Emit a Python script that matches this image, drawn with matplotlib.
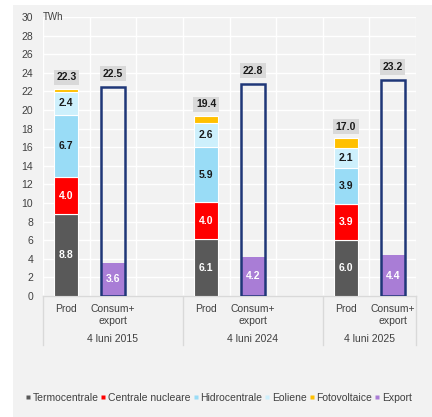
import matplotlib.pyplot as plt
import matplotlib.lines as mlines
import numpy as np

plt.rcParams['font.family'] = ['Liberation Sans', 'DejaVu Sans']

# Production mix and consumption, first 4 months (TWh)
periods = ['4 luni 2015', '4 luni 2024', '4 luni 2025']
termo = [8.8, 6.1, 6.0]
nuclear = [4.0, 4.0, 3.9]
hidro = [6.7, 5.9, 3.9]
eolian = [2.4, 2.6, 2.1]
foto = [0.4, 0.8, 1.1]
prod_total = [22.3, 19.4, 17.0]
export = [3.6, 4.2, 4.4]
consum_total = [22.5, 22.8, 23.2]
bar_labels = ['Prod', 'Consum+\nexport']
yticks = list(range(0, 31, 2))

series_names = ['Termocentrale', 'Centrale nucleare', 'Hidrocentrale',
                'Eoliene', 'Fotovoltaice', 'Export']
colors = ['#595959', '#ff0000', '#99dcf6', '#cdf0fc', '#ffc000', '#a97dd6']
label_colors = ['white', 'white', '#1a1a1a', '#1a1a1a', None, 'white']
navy = '#1f3778'
panel = '#f2f2f2'

fig = plt.figure(figsize=(4.32, 4.17), dpi=100, facecolor='white')
# grey panel behind the chart
fig.patches.append(plt.Rectangle((13 / 432, 0), 1, 1 - 5 / 417,
                                 transform=fig.transFigure,
                                 facecolor=panel, edgecolor='none', zorder=-1))
ax = fig.add_axes([43 / 432, 1 - 296 / 417, 373 / 432, 279 / 417])
ax.set_zorder(1)
ax.set_facecolor(panel)

width = 0.52
prod_x = np.array([0, 3, 6])
cons_x = prod_x + 1

# Stacked production bars
stacks = [termo, nuclear, hidro, eolian, foto]
bottom = np.zeros(3)
for vals, col, lcol in zip(stacks, colors, label_colors):
    vals = np.array(vals)
    ax.bar(prod_x, vals, width, bottom=bottom, color=col,
           edgecolor='white', linewidth=0.8, zorder=3)
    if lcol is not None:
        for x, b, v in zip(prod_x, bottom, vals):
            ax.text(x, b + v / 2, '%.1f' % v, ha='center', va='center',
                    color=lcol, fontsize=7.5, fontweight='bold', zorder=5)
    bottom += vals

# Consumption + export bars
ax.bar(cons_x, export, width, color=colors[5], edgecolor='none', zorder=3)
for x, v in zip(cons_x, export):
    ax.text(x, v / 2, '%.1f' % v, ha='center', va='center',
            color='white', fontsize=7.5, fontweight='bold', zorder=5)
ax.bar(cons_x, consum_total, width, facecolor='none', edgecolor=navy,
       linewidth=1.8, zorder=4)

# Totals in grey boxes
box = dict(boxstyle='square,pad=0.25', facecolor='#d9d9d9', edgecolor='none')
for x, v in zip(prod_x, prod_total):
    ax.annotate('%.1f' % v, (x, v), xytext=(0, 8), textcoords='offset points',
                ha='center', va='center', fontsize=7.5, fontweight='bold',
                color='#1a1a1a', bbox=box, zorder=5)
for x, v in zip(cons_x, consum_total):
    ax.annotate('%.1f' % v, (x, v), xytext=(0, 9.5), textcoords='offset points',
                ha='center', va='center', fontsize=7.5, fontweight='bold',
                color='#1a1a1a', bbox=box, zorder=5)

# Axes format
ax.set_xlim(-0.5, 7.5)
ax.set_ylim(0, 30)
ax.set_yticks(yticks)
ax.set_xticks(np.arange(-0.5, 8, 1.0))
ax.set_xticklabels([])
ax.tick_params(axis='both', length=0, labelsize=7.5, labelcolor='#404040')
ax.tick_params(axis='y', pad=7)
ax.grid(True, color='white', linewidth=1.0, zorder=0)
ax.set_axisbelow(True)
for s in ax.spines.values():
    s.set_visible(False)
ax.text(0.0, 1.0, 'TWh', transform=ax.transAxes, ha='left', va='center',
        fontsize=7, color='#404040')

# Category axis with two levels
trans = ax.get_xaxis_transform()
ax.add_line(mlines.Line2D([-0.5, 7.5], [0, 0], transform=trans,
                          color='#d9d9d9', linewidth=1.0, clip_on=False))
for xs in [-0.5, 2.5, 5.5, 7.5]:
    ax.add_line(mlines.Line2D([xs, xs], [0, -0.175], transform=trans,
                              color='#d9d9d9', linewidth=1.0, clip_on=False))
for px, cx, name in zip(prod_x, cons_x, periods):
    ax.text(px, -0.03, bar_labels[0], transform=trans, ha='center',
            va='top', fontsize=7.5, color='#404040')
    ax.text(cx, -0.03, bar_labels[1], transform=trans, ha='center',
            va='top', fontsize=7.5, color='#404040', linespacing=1.2)
    mid = (px + px + 2) / 2 if px < 6 else (px + cx) / 2
    ax.text(mid, -0.137, name, transform=trans, ha='center', va='top',
            fontsize=7.5, color='#404040')

# Legend
handles = [mlines.Line2D([], [], marker='s', linestyle='none', markersize=3.5,
                         markerfacecolor=c, markeredgecolor='none')
           for c in colors]
fig.legend(handles, series_names, loc='center', bbox_to_anchor=(0.505, 1 - 398 / 417),
           ncol=6, frameon=False, fontsize=7.5, handlelength=0.6,
           handletextpad=0.15, columnspacing=0.18, labelcolor='#404040')

fig.savefig('out.png', dpi=100, facecolor='white')
